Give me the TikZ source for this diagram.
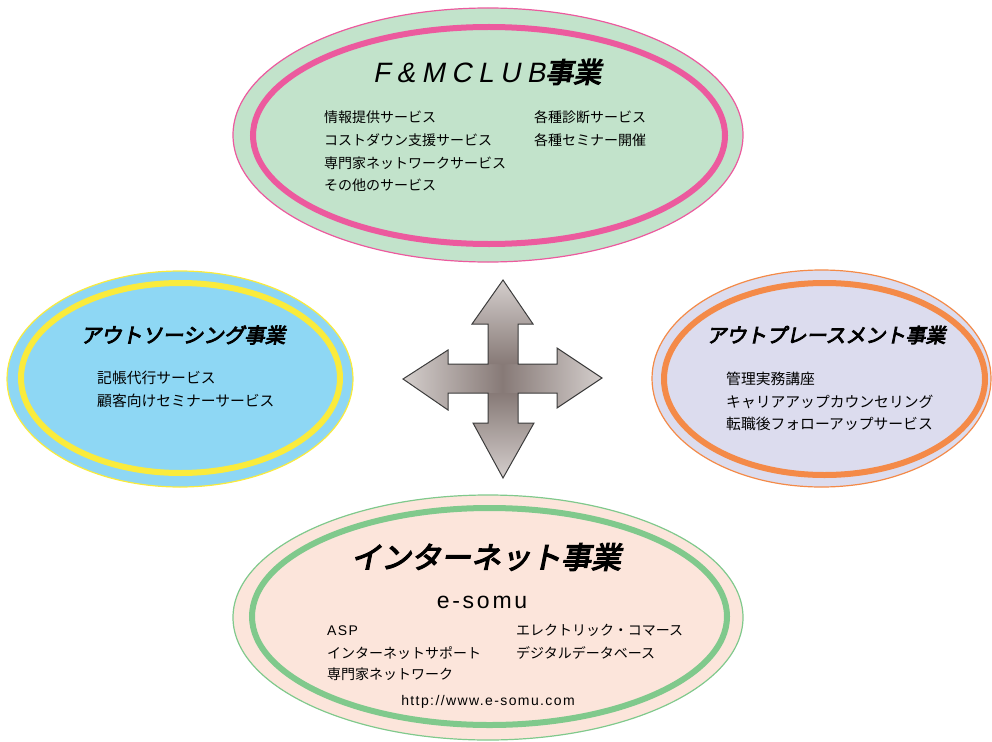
\documentclass[tikz,border=0pt]{standalone}
\usepackage{fontspec}
\setmainfont{Noto Sans CJK JP}
\newfontfamily\headfont[FakeSlant=0.2,FakeBold=4]{Noto Sans CJK JP}
\newfontfamily\headlatin[FakeSlant=0.2,LetterSpace=23]{Liberation Sans}
\newfontfamily\spacedfont[LetterSpace=12]{Liberation Sans}
\newfontfamily\urlfont[LetterSpace=10]{Liberation Sans}
\newfontfamily\itemlatin[LetterSpace=10]{Liberation Sans}
\usetikzlibrary{%
    positioning,
    shapes.geometric
}

\definecolor{clubgreen}{HTML}{C2E3CB}
\definecolor{clubpink}{HTML}{EC5A9E}
\definecolor{outsky}{HTML}{8ED7F4}
\definecolor{outyellow}{HTML}{FAEB3C}
\definecolor{placelav}{HTML}{DCDCEE}
\definecolor{placeorange}{HTML}{F48A48}
\definecolor{netpeach}{HTML}{FCE5DB}
\definecolor{netgreen}{HTML}{80C98C}
\definecolor{arrowlight}{HTML}{D4CECC}
\definecolor{arrowdark}{HTML}{877A77}
\definecolor{arrowedge}{HTML}{3C3C3C}

\tikzset{
    field/.style 2 args={ellipse, draw=#1, fill=#2, line width=1.2pt,
                         inner sep=0pt},
    ring/.style={ellipse, draw=#1, line width=6pt, inner sep=0pt},
    headline/.style={inner sep=0pt, font=\headfont\fontsize{#1}{#1}\selectfont},
    item/.style={anchor=west, inner sep=0pt,
                 font=\fontsize{#1}{#1}\selectfont},
    item/.default=14
}

\begin{document}
\begin{tikzpicture}[x=1pt, y=-1pt]
    \useasboundingbox (0,0) rectangle (992,741);

    % F&MCLUB
    \node[field={clubpink}{clubgreen},
          minimum width=510pt, minimum height=254pt] (club) at (488,135) {};
    \node[ring=clubpink, minimum width=472pt, minimum height=217pt]
          (club-ring) at (489,135.5) {};
    \node[headline=28] (club-title) at (487,72)
          {{\headlatin F\&MCLUB}事業};
    \foreach \X/\Y/\Text [count=\i] in {%
        324/117/情報提供サービス,
        324/140/コストダウン支援サービス,
        324/163/専門家ネットワークサービス,
        324/185.5/その他のサービス,
        534/117/各種診断サービス,
        534/140/各種セミナー開催%
        }
        \node[item] (club-\i) at (\X,\Y) {\Text};

    % outsourcing
    \node[field={outyellow}{outsky},
          minimum width=346pt, minimum height=216pt] (outsrc) at (180,379) {};
    \node[ring=outyellow, minimum width=319pt, minimum height=190pt]
          (outsrc-ring) at (180.5,378) {};
    \node[headline=20.5] (outsrc-title) at (183,335) {アウトソーシング事業};
    \foreach \X/\Y/\Text [count=\i] in {%
        97/378/記帳代行サービス,
        97/401/顧客向けセミナーサービス%
        }
        \node[item=14.8] (outsrc-\i) at (\X,\Y) {\Text};

    % outplacement
    \node[field={placeorange}{placelav},
          minimum width=339pt, minimum height=217pt] (place) at (821.5,378.5) {};
    \node[ring=placeorange, minimum width=321pt, minimum height=192pt]
          (place-ring) at (824.5,379) {};
    \node[headline=20] (place-title) at (826,335) {アウトプレースメント事業};
    \foreach \X/\Y/\Text [count=\i] in {%
        726/379/管理実務講座,
        726/401.5/キャリアアップカウンセリング,
        726/424/転職後フォローアップサービス%
        }
        \node[item=14.8] (place-\i) at (\X,\Y) {\Text};

    % internet
    \node[field={netgreen}{netpeach},
          minimum width=510pt, minimum height=245pt] (net) at (488,617.5) {};
    \node[ring=netgreen, minimum width=475pt, minimum height=217pt]
          (net-ring) at (489.5,616.5) {};
    \node[headline=30] (net-title) at (486,557) {インターネット事業};
    \node[anchor=base, inner sep=0pt, font=\spacedfont\fontsize{23}{23}\selectfont]
          (net-brand) at (482,608) {e-somu};
    \foreach \X/\Y/\Text [count=\i] in {%
        327/630.5/{\itemlatin ASP},
        327/653/インターネットサポート,
        327/674.5/専門家ネットワーク,
        516/630.5/エレクトリック・コマース,
        516/653/デジタルデータベース%
        }
        \node[item] (net-\i) at (\X,\Y) {\Text};
    \node[anchor=base, inner sep=0pt, font=\urlfont\fontsize{14}{14}\selectfont]
          (net-url) at (488,705) {http://www.e-somu.com};

    % four-way arrow
    \shade[left color=arrowlight, right color=arrowlight, middle color=arrowdark]
        (403,379) -- (448,350) -- (448,364) -- (557,364) -- (557,348)
        -- (602,378) -- (557,408) -- (557,393) -- (448,393) -- (448,410) -- cycle;
    \shade[top color=arrowlight, bottom color=arrowdark]
        (503,280) -- (533,324) -- (518,324) -- (518,364) -- (488,364)
        -- (488,324) -- (472,324) -- cycle;
    \shade[top color=arrowdark, bottom color=arrowlight]
        (488,393) -- (518,393) -- (518,423) -- (534,423) -- (503,478)
        -- (473,423) -- (488,423) -- cycle;
    \draw[arrowedge, line width=1pt]
        (503,280) -- (533,324) -- (518,324) -- (518,364) -- (557,364)
        -- (557,348) -- (602,378) -- (557,408) -- (557,393) -- (518,393)
        -- (518,423) -- (534,423) -- (503,478) -- (473,423) -- (488,423)
        -- (488,393) -- (448,393) -- (448,410) -- (403,379) -- (448,350)
        -- (448,364) -- (488,364) -- (488,324) -- (472,324) -- cycle;
\end{tikzpicture}
\end{document}
